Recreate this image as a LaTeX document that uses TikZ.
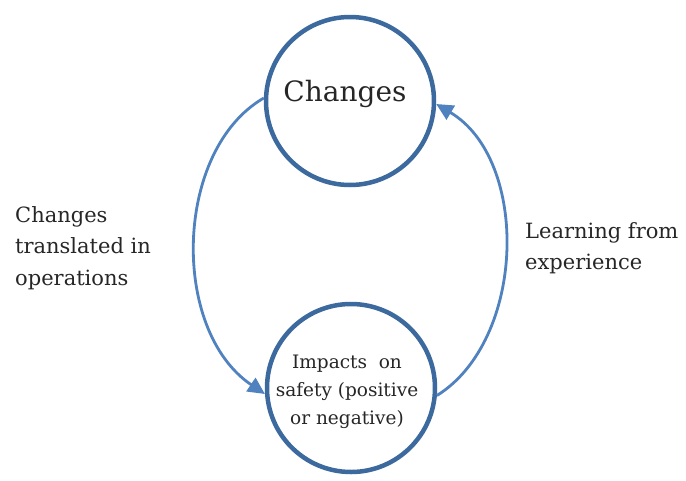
\documentclass[tikz,border=0pt]{standalone}
\usepackage{fontspec}
\setmainfont{DejaVu Serif}
\usetikzlibrary{arrows.meta}
\definecolor{ringblue}{HTML}{3C6A9E}
\definecolor{arrowblue}{HTML}{4F82BE}
\definecolor{txt}{HTML}{262626}
\tikzset{
  ring/.style={circle, draw=ringblue, line width=4.5pt, minimum size=168pt, inner sep=0pt, text=txt},
  flow/.style={draw=arrowblue, line width=2.8pt, -{Triangle[length=17pt,width=16pt]}},
  lbl/.style={text=txt, inner sep=0pt, align=left}
}
\begin{document}
\begin{tikzpicture}[x=1pt,y=-1pt]
\useasboundingbox (0,0) rectangle (686,480);
\node[ring] (top) at (350,101) {};
\node[ring] (bot) at (351,388) {};
\node[text=txt, font=\fontsize{28}{34}\selectfont] (ttxt) at (345,94) {Changes};
\node[text=txt, align=center, font=\fontsize{18.5}{28}\selectfont] (btxt) at (347,392) {Impacts\ \ on\\safety (positive\\or negative)};
\node[lbl, anchor=north west, font=\fontsize{21}{31.5}\selectfont] (ltxt) at (15,206) {Changes\\translated in\\operations};
\node[lbl, anchor=north west, font=\fontsize{21}{31}\selectfont] (rtxt) at (525,222) {Learning from\\experience};
\draw[flow] (top.178) .. controls (174,150) and (170,330) .. (bot.184);
\draw[flow] (bot.-5) .. controls (526,340) and (530,160) .. (top.-2);
\end{tikzpicture}
\end{document}
